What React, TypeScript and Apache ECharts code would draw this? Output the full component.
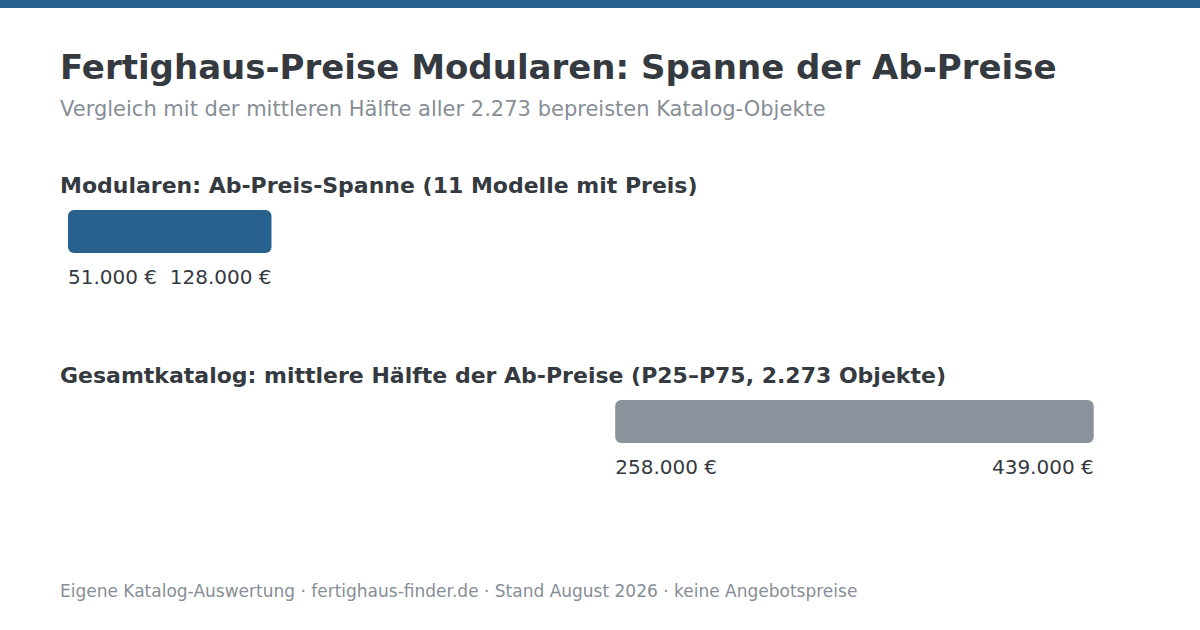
import { useEffect, useRef } from 'react'
import * as echarts from 'echarts'

// Daten
const rangeNames = ['Modularen', 'Gesamtkatalog']
const rangeStarts = [51000, 258000]
const rangeEnds = [128000, 439000]
const rangeColors = ['#29618e', '#8a939b']
const sectionLabels = [
  'Modularen: Ab-Preis-Spanne (11 Modelle mit Preis)',
  'Gesamtkatalog: mittlere Hälfte der Ab-Preise (P25–P75, 2.273 Objekte)'
]

const FONT = '"DejaVu Sans", sans-serif'
const DARK = '#343a40'
const GREY = '#868e96'

const fmt = (v: number) => v.toLocaleString('de-DE') + ' €'

export default function App() {
  const chartRef = useRef<HTMLDivElement>(null)

  useEffect(() => {
    if (!chartRef.current) return
    document.body.style.margin = '0'

    const chart = echarts.init(chartRef.current, null, { renderer: 'svg' })

    const gridTops = [210, 400]

    // Balken für eine Preisspanne mit Beschriftung links/rechts darunter
    const renderItem = (params: any, api: any) => {
      const s = api.coord([api.value(0), 0])
      const e = api.coord([api.value(1), 0])
      const h = 43
      const top = s[1] - h / 2
      const color = rangeColors[params.seriesIndex]
      return {
        type: 'group',
        children: [
          {
            type: 'rect',
            shape: { x: s[0], y: top, width: e[0] - s[0], height: h, r: 6 },
            style: { fill: color }
          },
          {
            type: 'text',
            x: s[0],
            y: top + h + 24,
            style: {
              text: fmt(api.value(0)),
              fill: DARK,
              font: `20px ${FONT}`,
              textAlign: 'left',
              textVerticalAlign: 'middle'
            }
          },
          {
            type: 'text',
            x: e[0],
            y: top + h + 24,
            style: {
              text: fmt(api.value(1)),
              fill: DARK,
              font: `20px ${FONT}`,
              textAlign: 'right',
              textVerticalAlign: 'middle'
            }
          }
        ]
      }
    }

    const option: echarts.EChartsOption = {
      animation: false,
      backgroundColor: '#ffffff',
      textStyle: { fontFamily: FONT },
      grid: gridTops.map(t => ({ left: 60, width: 1080, top: t, height: 43 })),
      xAxis: gridTops.map((_, i) => ({
        type: 'value',
        gridIndex: i,
        min: 48000,
        max: 456500,
        show: false
      })),
      yAxis: gridTops.map((_, i) => ({
        type: 'category',
        gridIndex: i,
        data: [rangeNames[i]],
        show: false
      })),
      series: rangeNames.map((name, i) => ({
        type: 'custom',
        name,
        xAxisIndex: i,
        yAxisIndex: i,
        renderItem,
        encode: { x: [0, 1], y: 2 },
        data: [[rangeStarts[i], rangeEnds[i], 0]]
      })) as any,
      graphic: [
        { type: 'rect', left: 0, top: 0, shape: { width: 1200, height: 8 }, style: { fill: '#29618e' } },
        {
          type: 'text', left: 60, top: 50,
          style: { text: 'Fertighaus-Preise Modularen: Spanne der Ab-Preise', fill: DARK, font: `bold 34px ${FONT}` }
        },
        {
          type: 'text', left: 60, top: 98,
          style: { text: 'Vergleich mit der mittleren Hälfte aller 2.273 bepreisten Katalog-Objekte', fill: GREY, font: `21px ${FONT}` }
        },
        {
          type: 'text', left: 60, top: 174,
          style: { text: sectionLabels[0], fill: DARK, font: `bold 22px ${FONT}` }
        },
        {
          type: 'text', left: 60, top: 364,
          style: { text: sectionLabels[1], fill: DARK, font: `bold 22px ${FONT}` }
        },
        {
          type: 'text', left: 60, top: 582,
          style: { text: 'Eigene Katalog-Auswertung · fertighaus-finder.de · Stand August 2026 · keine Angebotspreise', fill: GREY, font: `17px ${FONT}` }
        }
      ]
    }

    chart.setOption(option)
    return () => chart.dispose()
  }, [])

  return <div ref={chartRef} style={{ width: 1200, height: 630 }} />
}
